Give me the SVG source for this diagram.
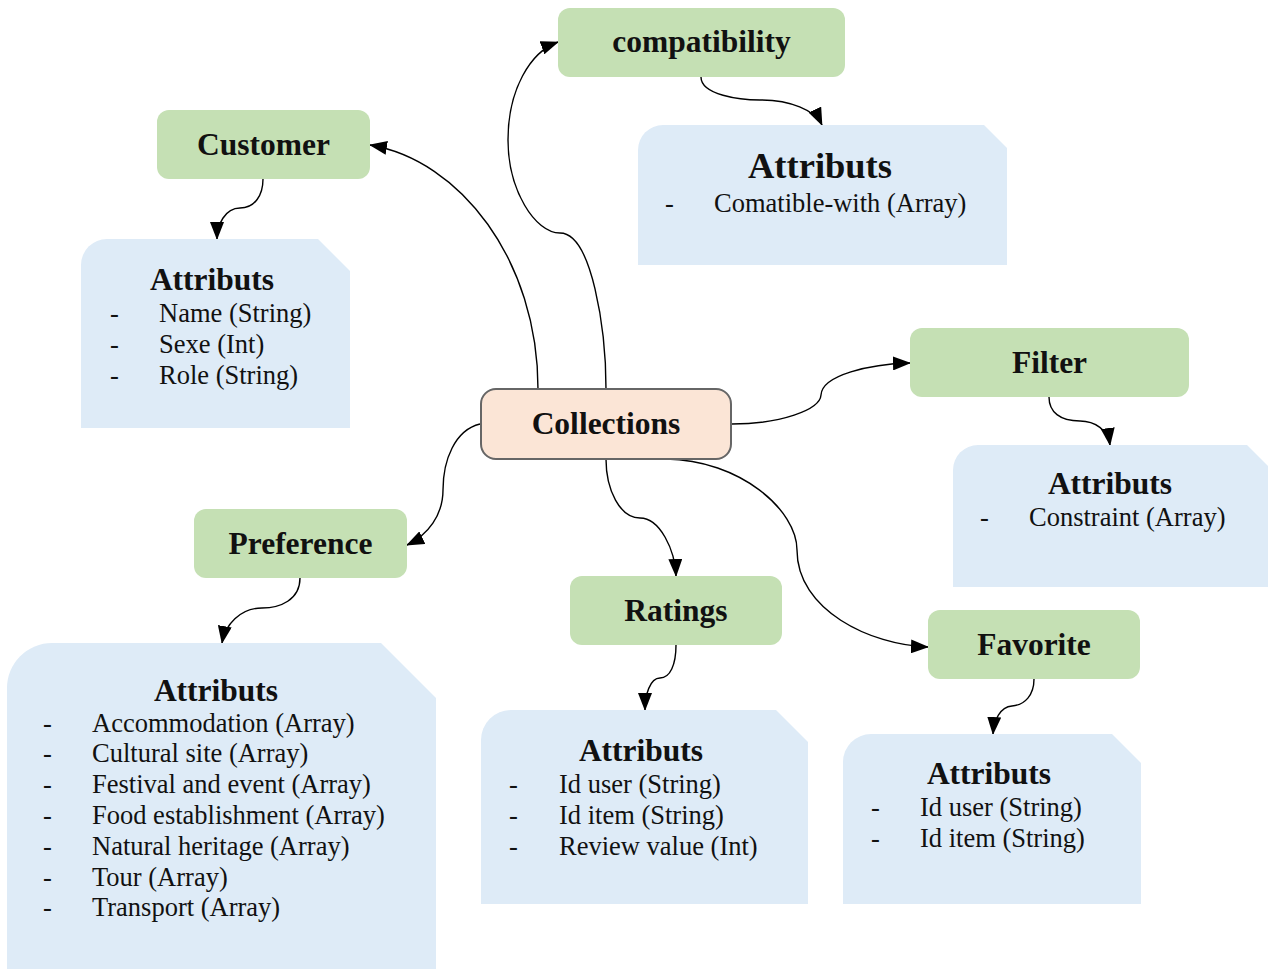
<svg xmlns="http://www.w3.org/2000/svg" width="1268" height="969" viewBox="0 0 1268 969">
  <defs>
    <marker id="arrow" viewBox="0 0 18 14" refX="17" refY="7" markerWidth="18" markerHeight="14" markerUnits="userSpaceOnUse" orient="auto">
      <path d="M0,0 L18,7 L0,14 Z" fill="#000"/>
    </marker>
    <style>
      .entity { fill: #c5e0b4; }
      .attrs { fill: #deebf7; }
      .hub { fill: #fbe5d6; stroke: #666; stroke-width: 2; }
      .label { font-family: "Liberation Serif", "Times New Roman", serif; font-weight: bold; font-size: 31.5px; fill: #111; text-anchor: middle; }
      .title { font-family: "Liberation Serif", "Times New Roman", serif; font-weight: bold; font-size: 31.5px; fill: #111; text-anchor: middle; }
      .item { font-family: "Liberation Serif", "Times New Roman", serif; font-size: 26.5px; fill: #111; }
      .link { fill: none; stroke: #000; stroke-width: 1.4; marker-end: url(#arrow); }
    </style>
  </defs>
  <rect width="1268" height="969" fill="#fff"/>

  <!-- connectors -->
  <g id="connectors">
    <path class="link" d="M538,389 C538,260 460,160 370,145"/>
    <path class="link" d="M606,389 C606,330 592,233 560,233 C535,233 508,190 508,140 C508,90 530,52 558,42"/>
    <path class="link" d="M732,424 C780,424 820,410 821,395 C822,375 870,364 910,363"/>
    <path class="link" d="M480,424 C455,430 443,460 443,490 C443,515 428,535 407,545"/>
    <path class="link" d="M606,459 C606,490 620,518 640,518 C660,518 675,550 676,576"/>
    <path class="link" d="M666,459 C740,460 797,510 797,550 C797,610 870,645 928,647"/>
    <path class="link" d="M701,77 C701,95 740,100 760,100 C790,100 815,110 822,125"/>
    <path class="link" d="M263,179 C263,195 255,208 240,208 C225,208 217,225 217,239"/>
    <path class="link" d="M1049,397 C1049,412 1060,421 1080,421 C1095,421 1108,430 1110,445"/>
    <path class="link" d="M300,578 C300,600 280,608 262,608 C240,608 225,625 222,643"/>
    <path class="link" d="M676,645 C676,665 670,678 660,678 C650,678 645,695 645,710"/>
    <path class="link" d="M1034,679 C1034,695 1025,705 1012,706 C1000,707 994,720 993,734"/>
  </g>

  <!-- central node -->
  <g id="collections">
    <rect class="hub" x="481" y="389" width="250" height="70" rx="15"/>
    <text class="label" x="606" y="434">Collections</text>
  </g>

  <!-- collection nodes -->
  <g id="customer">
    <rect class="entity" x="157" y="110" width="213" height="69" rx="12"/>
    <text class="label" x="263.5" y="155">Customer</text>
  </g>
  <g id="compatibility">
    <rect class="entity" x="558" y="8" width="287" height="69" rx="12"/>
    <text class="label" x="701.5" y="52">compatibility</text>
  </g>
  <g id="filter">
    <rect class="entity" x="910" y="328" width="279" height="69" rx="12"/>
    <text class="label" x="1049.5" y="373">Filter</text>
  </g>
  <g id="preference">
    <rect class="entity" x="194" y="509" width="213" height="69" rx="12"/>
    <text class="label" x="300.5" y="554">Preference</text>
  </g>
  <g id="ratings">
    <rect class="entity" x="570" y="576" width="212" height="69" rx="12"/>
    <text class="label" x="676" y="621">Ratings</text>
  </g>
  <g id="favorite">
    <rect class="entity" x="928" y="610" width="212" height="69" rx="12"/>
    <text class="label" x="1034" y="655">Favorite</text>
  </g>

  <!-- attribute cards -->
  <g id="customer-attributes">
    <path class="attrs" d="M81,428 L81,265 A26,26 0 0 1 107,239 L318,239 L350,271 L350,428 Z"/>
    <text class="title" x="212" y="289.5">Attributs</text>
    <text class="item" x="110" y="321.5">-</text><text class="item" x="159" y="321.5">Name (String)</text>
    <text class="item" x="110" y="352.5">-</text><text class="item" x="159" y="352.5">Sexe (Int)</text>
    <text class="item" x="110" y="383.5">-</text><text class="item" x="159" y="383.5">Role (String)</text>
  </g>
  <g id="compatibility-attributes">
    <path class="attrs" d="M638,265 L638,150 A25,25 0 0 1 663,125 L984,125 L1007,148 L1007,265 Z"/>
    <text class="title" x="820" y="178" style="font-size:36.5px">Attributs</text>
    <text class="item" x="665" y="211.5">-</text><text class="item" x="714" y="211.5">Comatible-with (Array)</text>
  </g>
  <g id="filter-attributes">
    <path class="attrs" d="M953,587 L953,470 A25,25 0 0 1 978,445 L1247,445 L1268,466 L1268,587 Z"/>
    <text class="title" x="1110" y="493.5">Attributs</text>
    <text class="item" x="980" y="525.5">-</text><text class="item" x="1029" y="525.5">Constraint (Array)</text>
  </g>
  <g id="preference-attributes">
    <path class="attrs" d="M7,969 L7,688 A45,45 0 0 1 52,643 L381,643 L436,698 L436,969 Z"/>
    <text class="title" x="216" y="700.5">Attributs</text>
    <text class="item" x="43" y="731.5">-</text><text class="item" x="92" y="731.5">Accommodation (Array)</text>
    <text class="item" x="43" y="762.3">-</text><text class="item" x="92" y="762.3">Cultural site (Array)</text>
    <text class="item" x="43" y="793.1">-</text><text class="item" x="92" y="793.1">Festival and event (Array)</text>
    <text class="item" x="43" y="823.9">-</text><text class="item" x="92" y="823.9">Food establishment (Array)</text>
    <text class="item" x="43" y="854.7">-</text><text class="item" x="92" y="854.7">Natural heritage (Array)</text>
    <text class="item" x="43" y="885.5">-</text><text class="item" x="92" y="885.5">Tour (Array)</text>
    <text class="item" x="43" y="916.3">-</text><text class="item" x="92" y="916.3">Transport (Array)</text>
  </g>
  <g id="ratings-attributes">
    <path class="attrs" d="M481,904 L481,740 A30,30 0 0 1 511,710 L776,710 L808,742 L808,904 Z"/>
    <text class="title" x="641" y="760.5">Attributs</text>
    <text class="item" x="509" y="792.5">-</text><text class="item" x="559" y="792.5">Id user (String)</text>
    <text class="item" x="509" y="823.5">-</text><text class="item" x="559" y="823.5">Id item (String)</text>
    <text class="item" x="509" y="854.5">-</text><text class="item" x="559" y="854.5">Review value (Int)</text>
  </g>
  <g id="favorite-attributes">
    <path class="attrs" d="M843,904 L843,762 A28,28 0 0 1 871,734 L1112,734 L1141,763 L1141,904 Z"/>
    <text class="title" x="989" y="783.5">Attributs</text>
    <text class="item" x="871" y="815.5">-</text><text class="item" x="920" y="815.5">Id user (String)</text>
    <text class="item" x="871" y="846.5">-</text><text class="item" x="920" y="846.5">Id item (String)</text>
  </g>
</svg>
